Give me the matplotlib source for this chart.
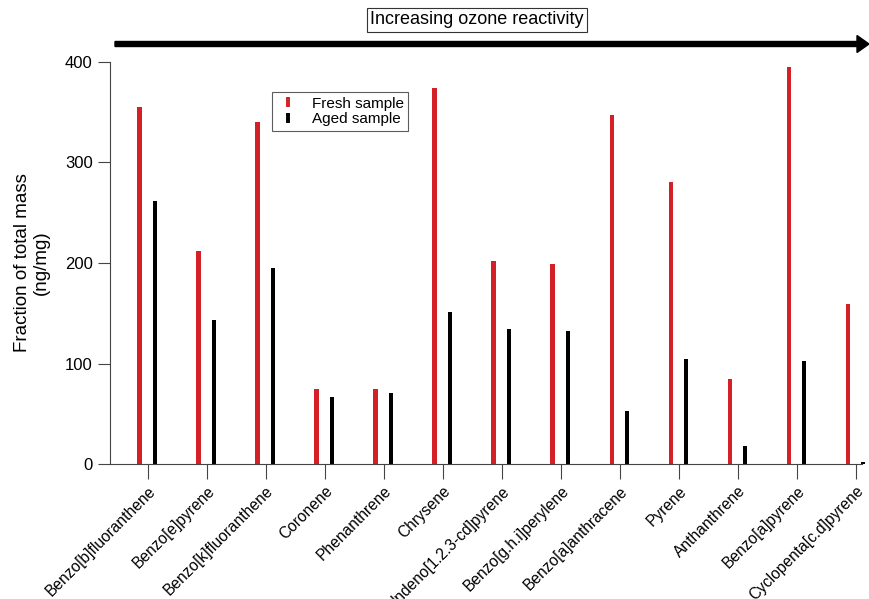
import matplotlib
matplotlib.use("Agg")
import matplotlib.pyplot as plt
from matplotlib.lines import Line2D
from matplotlib.patches import FancyArrow
import numpy as np

plt.rcParams['font.family'] = ['Liberation Sans', 'DejaVu Sans']

compounds = [
    "Benzo[b]fluoranthene", "Benzo[e]pyrene", "Benzo[k]fluoranthene", "Coronene",
    "Phenanthrene", "Chrysene", "Indeno[1.2.3-cd]pyrene", "Benzo[g.h.i]perylene",
    "Benzo[a]anthracene", "Pyrene", "Anthanthrene", "Benzo[a]pyrene",
    "Cyclopenta[c.d]pyrene",
]
fresh = [355, 212, 340, 75, 75, 374, 202, 199, 347, 281, 85, 395, 159]
aged = [262, 143, 195, 67, 71, 151, 134, 132, 53, 104, 18, 102, 1.5]

fresh_color = '#d42027'
aged_color = '#000000'

fig = plt.figure(figsize=(8.7, 5.99), dpi=100)
ax = fig.add_axes([110 / 870, 1 - 464 / 599, 752 / 870, 402 / 599])

x = np.arange(len(compounds))
ax.bar(x - 0.14, fresh, width=0.075, color=fresh_color, clip_on=False)
ax.bar(x + 0.12, aged, width=0.075, color=aged_color, clip_on=False)

ax.set_xlim(-0.64, 12.1)
ax.set_ylim(0, 400)
ax.set_yticks([0, 100, 200, 300, 400])
ax.set_xticks(x)
ax.set_xticklabels(compounds, rotation=45, ha='right', rotation_mode='anchor', fontsize=11.2)
ax.tick_params(axis='y', labelsize=12, length=9, width=0.8, color='#444444', direction='out')
ax.tick_params(axis='x', length=11, width=0.8, color='#444444', direction='out', pad=3)

for side in ('top', 'right'):
    ax.spines[side].set_visible(False)
for side in ('left', 'bottom'):
    ax.spines[side].set_color('#444444')
    ax.spines[side].set_linewidth(0.8)

ax.set_ylabel("Fraction of total mass\n(ng/mg)", fontsize=13.5, labelpad=11, linespacing=1.15)

handles = [
    Line2D([], [], color=fresh_color, marker='|', linestyle='None', markersize=7, markeredgewidth=2.8),
    Line2D([], [], color=aged_color, marker='|', linestyle='None', markersize=7, markeredgewidth=2.8),
]
leg = ax.legend(handles, ["Fresh sample", "Aged sample"], loc='upper left',
                bbox_to_anchor=(162 / 752, 1 - 30 / 402), fontsize=11, frameon=True,
                fancybox=False, handlelength=1.5, handletextpad=0.8, borderpad=0.3,
                labelspacing=0.12, borderaxespad=0)
leg.get_frame().set_edgecolor('#333333')
leg.get_frame().set_linewidth(0.8)

# direction-of-reactivity arrow and its caption
fig.patches.append(FancyArrow(
    115 / 870, 1 - 44 / 599, 754 / 870, 0, width=5 / 599,
    head_width=17 / 599, head_length=12 / 870, length_includes_head=True,
    color='black', transform=fig.transFigure, figure=fig))
fig.text(477 / 870, 1 - 20 / 599, "Increasing ozone reactivity", fontsize=13,
         ha='center', va='center',
         bbox=dict(boxstyle='square,pad=0.2', facecolor='white', edgecolor='#333333', linewidth=0.8))

fig.savefig("out.png", dpi=100)
